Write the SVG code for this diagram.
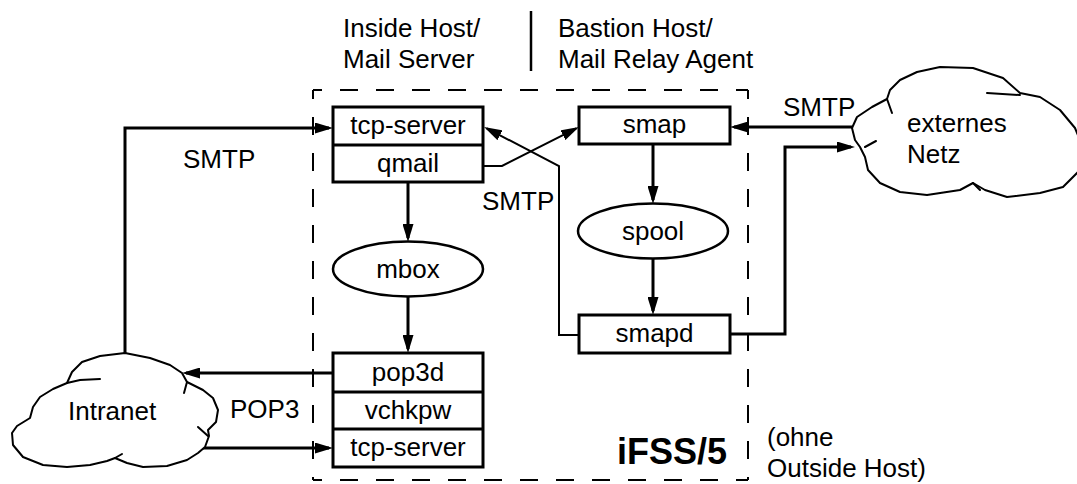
<svg xmlns="http://www.w3.org/2000/svg" width="1077" height="484" viewBox="0 0 1077 484">
  <style>
    text { font-family: "Liberation Sans", Arial, sans-serif; font-size: 26px; fill: #000; }
    .c { text-anchor: middle; }
    .box { fill: #fff; stroke: #000; stroke-width: 3; }
    .div { stroke: #000; stroke-width: 3; }
    .store { fill: #fff; stroke: #000; stroke-width: 2.5; }
    .cloud { fill: #fff; stroke: #000; stroke-width: 2; stroke-linejoin: round; }
    .tick { fill: none; stroke: #000; stroke-width: 2; stroke-linecap: round; }
    .thick { fill: none; stroke: #000; stroke-width: 3; }
    .thin { fill: none; stroke: #000; stroke-width: 2; }
    .frame { fill: none; stroke: #000; stroke-width: 2; stroke-dasharray: 18 18; stroke-dashoffset: 9; }
    .big { font-weight: bold; font-size: 36px; }
  </style>
  <defs>
    <marker id="ah" markerUnits="userSpaceOnUse" markerWidth="18" markerHeight="11" refX="14" refY="5.5" orient="auto">
      <path d="M0,0 L18,5.5 L0,11 Z" fill="#000"/>
    </marker>
    <marker id="ahs" markerUnits="userSpaceOnUse" markerWidth="18" markerHeight="11" refX="15" refY="5.5" orient="auto">
      <path d="M0,0 L18,5.5 L0,11 Z" fill="#000"/>
    </marker>
  </defs>
  <rect width="1077" height="484" fill="#fff"/>

  <!-- headings above the two hosts -->
  <g id="headings">
    <text x="343" y="37">Inside Host/</text>
    <text x="343" y="68">Mail Server</text>
    <line x1="531" y1="11" x2="531" y2="71" stroke="#000" stroke-width="2.5"/>
    <text x="558" y="37">Bastion Host/</text>
    <text x="558" y="68">Mail Relay Agent</text>
  </g>

  <!-- iFSS/5 boundary -->
  <g id="boundary">
    <path class="frame" d="M313,90 H748"/>
    <path class="frame" d="M313,480 H748"/>
    <path class="frame" d="M313,90 V480"/>
    <path class="frame" d="M748,90 V480"/>
    <text class="big" x="617" y="464">iFSS/5</text>
    <text x="767" y="446">(ohne</text>
    <text x="767" y="477">Outside Host)</text>
  </g>

  <!-- connectors -->
  <g id="connectors">
    <path class="thick" d="M125,353 V128 H329" marker-end="url(#ah)"/>
    <path class="thick" d="M333,373 H186" marker-end="url(#ah)"/>
    <path class="thick" d="M200,448 H329" marker-end="url(#ah)"/>
    <path class="thick" d="M408,182 V238" marker-end="url(#ah)"/>
    <path class="thick" d="M408,297 V349" marker-end="url(#ah)"/>
    <path class="thick" d="M653,144 V200" marker-end="url(#ah)"/>
    <path class="thick" d="M653,259 V311" marker-end="url(#ah)"/>
    <path class="thick" d="M852,127 H734" marker-end="url(#ah)"/>
    <path class="thick" d="M730,334 H785 V147 H851" marker-end="url(#ah)"/>
    <path class="thin" d="M483,166 H502 L576.3,128.4" marker-end="url(#ahs)"/>
    <path class="thin" d="M579,335 H559 V166 L486.7,128.4" marker-end="url(#ahs)"/>
    <text x="183" y="168">SMTP</text>
    <text x="482" y="210">SMTP</text>
    <text x="783" y="116">SMTP</text>
    <text x="230" y="418">POP3</text>
  </g>

  <!-- Inside host: tcp-server / qmail stack -->
  <g id="node-smtp-stack">
    <rect class="box" x="333" y="107" width="150" height="75"/>
    <line class="div" x1="333" y1="145" x2="483" y2="145"/>
    <text class="c" x="408" y="134">tcp-server</text>
    <text class="c" x="408" y="172">qmail</text>
  </g>

  <g id="node-mbox">
    <ellipse class="store" cx="408" cy="269" rx="75" ry="27.5"/>
    <text class="c" x="408" y="278">mbox</text>
  </g>

  <!-- Inside host: pop3d / vchkpw / tcp-server stack -->
  <g id="node-pop3-stack">
    <rect class="box" x="333" y="353" width="150" height="114"/>
    <line class="div" x1="333" y1="392" x2="483" y2="392"/>
    <line class="div" x1="333" y1="429" x2="483" y2="429"/>
    <text class="c" x="408" y="381">pop3d</text>
    <text class="c" x="408" y="419">vchkpw</text>
    <text class="c" x="408" y="456">tcp-server</text>
  </g>

  <!-- Bastion host -->
  <g id="node-smap">
    <rect class="box" x="579" y="107" width="151" height="37"/>
    <text class="c" x="654.5" y="133">smap</text>
  </g>

  <g id="node-spool">
    <ellipse class="store" cx="653" cy="231" rx="75" ry="27.5"/>
    <text class="c" x="653" y="240">spool</text>
  </g>

  <g id="node-smapd">
    <rect class="box" x="579" y="315" width="151" height="38"/>
    <text class="c" x="654.5" y="342">smapd</text>
  </g>

  <!-- networks -->
  <g id="node-intranet">
    <path class="cloud" d="M67,383 L72,372 L82,362 L100,356 L125,353 L150,358 L170,365 L182,373 L187,382 L203,390 L213,398 L218,410 L216,422 L208,430 L209,436 L205,447 L198,453 L187,460 L167,466 L143,467 L127,463 L115,458 L107,461 L90,465 L67,467 L43,465 L23,457 L13,445 L12,433 L17,426 L30,418 L33,407 L40,397 L53,389 Z"/>
    <path class="tick" d="M187,382 L184,393 M198,427 L208,436 M67,383 L80,380 L100,379 M115,458 L122,454"/>
    <text x="68" y="420">Intranet</text>
  </g>

  <g id="node-external">
    <path class="cloud" d="M852,128 L857,117 L872,107 L887,99 L890,90 L900,80 L917,72 L940,67 L973,68 L1003,78 L1020,93 L1040,97 L1060,110 L1075,128 L1084,150 L1078,172 L1063,187 L1040,193 L1007,197 L985,190 L973,183 L960,190 L927,195 L900,192 L880,183 L868,170 L865,157 L860,147 L855,140 Z"/>
    <path class="tick" d="M887,99 L892,113 M987,93 L1020,95 M865,147 L876,141 M973,183 L980,190"/>
    <text x="907" y="132">externes</text>
    <text x="907" y="163">Netz</text>
  </g>
</svg>
